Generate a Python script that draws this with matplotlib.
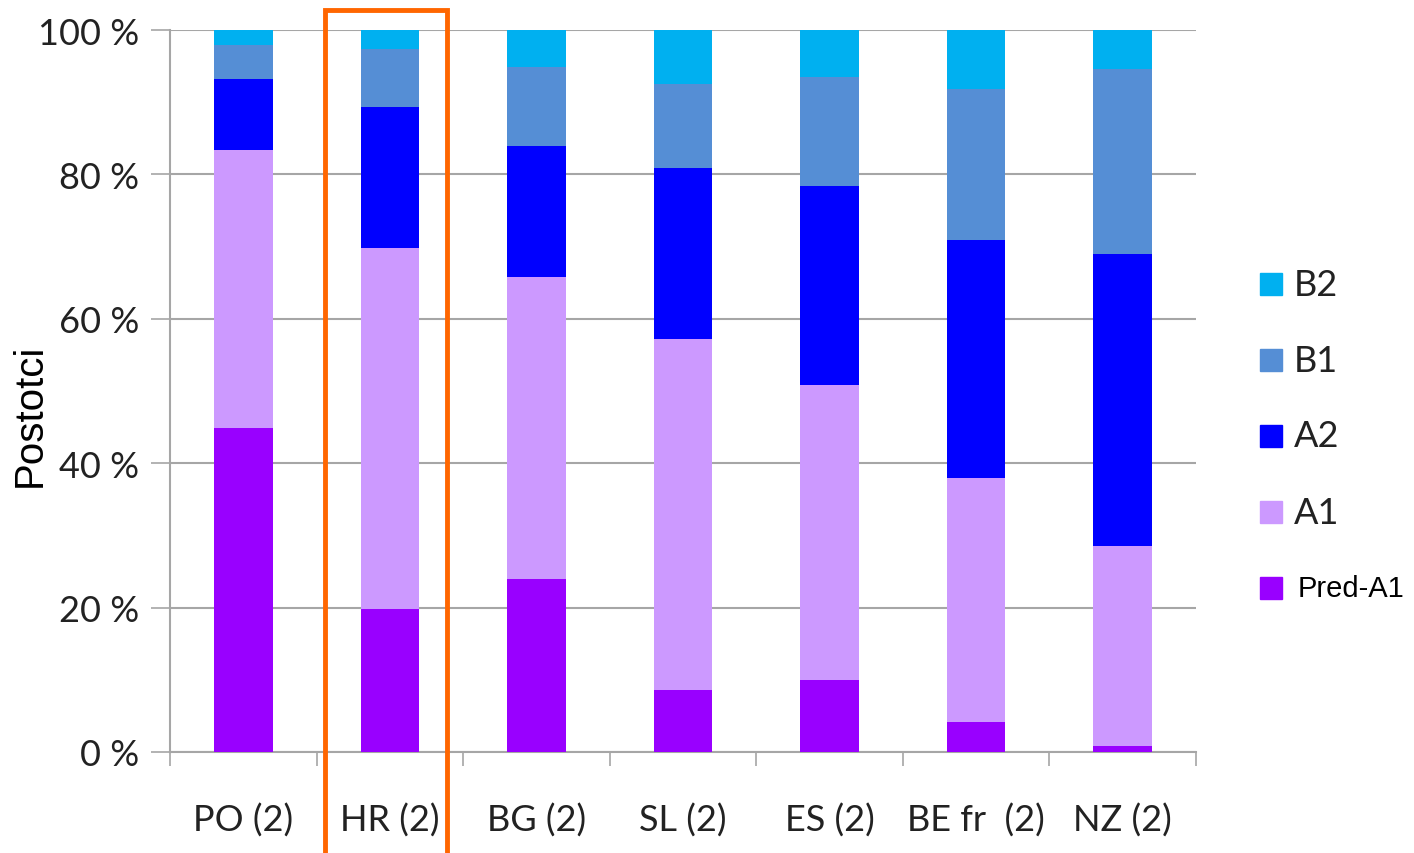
import numpy as np
import matplotlib
matplotlib.use("Agg")
from matplotlib import pyplot as plt
from matplotlib.patches import Rectangle

# --- data (percent of pupils per level)
countries = ["PO (2)", "HR (2)", "BG (2)", "SL (2)", "ES (2)", "BE fr  (2)", "NZ (2)"]
pred_a1 = [44.9, 19.8, 24.0, 8.6, 10.0, 4.2, 0.8]
a1 = [38.5, 50.0, 41.8, 48.6, 40.8, 33.7, 27.7]
a2 = [9.8, 19.5, 18.1, 23.7, 27.6, 33.0, 40.5]
b1 = [4.7, 8.1, 11.0, 11.6, 15.1, 20.9, 25.6]
b2 = [2.1, 2.6, 5.1, 7.5, 6.5, 8.2, 5.4]

series = [
    ("Pred-A1", pred_a1, "#9900FF"),
    ("A1", a1, "#CC99FF"),
    ("A2", a2, "#0000FF"),
    ("B1", b1, "#558ED5"),
    ("B2", b2, "#00B0F0"),
]

fig = plt.figure(figsize=(14.14, 8.54), dpi=100)
ax = fig.add_axes([0.1202, 0.1183, 0.7256, 0.8454])

x = np.arange(len(countries))
bottom = np.zeros(len(countries))
for name, vals, color in series:
    vals = np.asarray(vals)
    ax.bar(x, vals, width=0.4, bottom=bottom, color=color,
           edgecolor="none", zorder=3)
    bottom += vals

ax.set_xlim(-0.5, len(countries) - 0.5)
ax.set_ylim(0, 100)
ax.set_yticks(np.arange(0, 101, 20))
ax.set_yticklabels([f"{v} %" for v in range(0, 101, 20)],
                   fontfamily="Lato", fontsize=26, color="#222222")
ax.yaxis.grid(True, color="#A6A6A6", linewidth=1.5, zorder=0)

# boundary ticks on x, category labels in between
ax.set_xticks(np.arange(-0.5, len(countries)))
ax.set_xticklabels([])
ax.tick_params(axis="x", length=10, width=1.2, color="#A6A6A6", direction="out")
ax.tick_params(axis="y", length=14, width=1.2, color="#A6A6A6", direction="out", pad=8)
for xi, lab in zip(x, countries):
    ax.text(xi, -9.4, lab, ha="center", va="center", fontfamily="Lato",
            fontsize=26, color="#222222")

for side in ["top", "right"]:
    ax.spines[side].set_visible(False)
for side in ["left", "bottom"]:
    ax.spines[side].set_color("#A6A6A6")
    ax.spines[side].set_linewidth(1.5)

fig.text(0.021, 0.514, "Postotci", rotation=90, ha="center", va="center",
         fontfamily="Liberation Sans", fontsize=29, color="black")

# legend drawn as individual entries (top to bottom: B2 ... Pred-A1)
leg_order = ["B2", "B1", "A2", "A1", "Pred-A1"]
colors = {n: c for n, _, c in series}
for i, name in enumerate(leg_order):
    yc = 1 - (285 + i * 76) / 854
    fig.patches.append(Rectangle((1260 / 1414, yc - 11 / 854), 22 / 1414, 22 / 854,
                                 transform=fig.transFigure, color=colors[name]))
    if name == "Pred-A1":
        fig.text(1298 / 1414, yc, name, ha="left", va="center",
                 fontfamily="Liberation Sans", fontsize=21, color="black")
    else:
        fig.text(1294 / 1414, yc, name, ha="left", va="center",
                 fontfamily="Lato", fontsize=26, color="#222222")

# highlight box around HR
fig.patches.append(Rectangle((325 / 1414, -0.01), 122 / 1414, 1 - 11 / 854 + 0.01,
                             transform=fig.transFigure, fill=False,
                             edgecolor="#FF6600", linewidth=3.5, zorder=10))

fig.savefig("out.png", dpi=100)
